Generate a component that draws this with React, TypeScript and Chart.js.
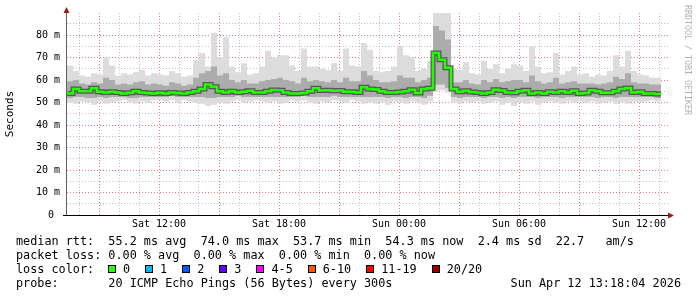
import React, { useEffect, useRef } from 'react';
import { Chart, registerables } from 'chart.js';

Chart.register(...registerables);

// time axis in hours since Sat 00:00 (local), one sample every 18 minutes
const START_HOUR = 7.4;
const STEP_HOUR = 0.3;
const X_MIN = 7.4;
const X_MAX = 37.5;
const Y_MAX = 89.8;

const tickHours = [12, 18, 24, 30, 36];
const tickLabels = ['Sat 12:00', 'Sat 18:00', 'Sun 00:00', 'Sun 06:00', 'Sun 12:00'];

// median RTT (ms)
const medianRtt = [
  55.0, 54.0, 56.0, 55.0, 55.0, 56.3, 54.8, 54.5, 54.8, 54.5, 54.0, 54.3, 55.0, 54.5, 54.2, 54.0,
  54.3, 54.0, 54.5, 54.2, 54.0, 54.5, 55.0, 56.0, 58.0, 57.0, 55.0, 54.5, 55.0, 54.5, 54.8, 55.2, 54.5, 54.5, 55.0,
  55.6, 55.5, 54.5, 54.0, 54.0, 54.2, 55.0, 56.4, 55.4, 55.5, 55.2, 55.3, 54.8, 54.8, 54.5, 56.8, 56.0,
  55.8, 55.0, 54.5, 54.5, 54.7, 55.0, 55.7, 54.2, 56.0, 56.4, 72.0, 69.0, 65.5, 56.0, 54.8, 55.2, 54.7,
  54.5, 54.0, 54.5, 55.7, 55.3, 54.5, 54.3, 55.0, 55.5, 54.0, 54.5, 54.0, 54.8, 54.5, 55.0, 54.5, 55.2,
  54.0, 54.2, 55.5, 55.0, 54.3, 54.3, 55.0, 56.0, 56.5, 54.5, 54.8, 54.0, 54.0, 53.8,
];

// slowest ping of each sample (ms)
const maxRtt = [
  63.5, 66.5, 64.0, 62.0, 61.5, 63.0, 62.5, 70.0, 66.5, 62.0, 63.0, 62.5, 63.5, 64.5, 62.0, 63.0,
  62.5, 62.0, 64.0, 63.0, 61.5, 62.0, 69.0, 72.0, 66.0, 81.0, 70.0, 79.0, 66.0, 63.5, 67.5, 62.5, 63.0, 66.0, 73.0,
  70.0, 71.0, 71.0, 66.5, 64.0, 74.0, 66.0, 66.0, 65.0, 64.5, 67.5, 64.0, 74.0, 66.5, 66.0, 76.5, 73.5,
  64.0, 63.5, 64.0, 66.0, 75.0, 71.0, 70.0, 64.0, 65.0, 68.5, 92.0, 92.0, 92.0, 65.0, 64.5, 68.0, 63.0,
  62.5, 68.5, 65.0, 67.0, 63.0, 65.0, 67.0, 66.5, 64.0, 75.0, 66.0, 63.0, 63.5, 72.0, 62.5, 64.0, 66.0,
  62.5, 63.0, 61.5, 62.5, 62.0, 64.0, 71.0, 66.0, 73.0, 64.0, 62.5, 62.0, 61.0, 61.0,
];

// fastest ping of each sample (ms)
const minRtt = [
  50.5, 50.0, 49.5, 50.5, 50.0, 49.0, 50.5, 49.5, 50.0, 50.5, 51.0, 50.0, 49.5, 50.5, 50.0, 51.0,
  51.0, 50.5, 51.0, 50.0, 51.0, 50.5, 50.0, 49.5, 48.5, 49.0, 50.0, 49.5, 50.5, 51.0, 50.0, 50.5, 51.0, 50.5,
  50.0, 50.5, 49.5, 50.0, 51.0, 50.5, 51.0, 50.0, 49.5, 50.5, 50.0, 51.0, 50.5, 50.0, 51.0, 50.5, 49.5, 50.0,
  49.5, 50.0, 49.0, 50.5, 50.0, 49.5, 50.5, 50.0, 49.0, 50.5, 55.0, 55.5, 54.5, 50.0, 49.5, 50.5, 50.0,
  50.5, 49.5, 50.0, 50.5, 49.0, 50.0, 48.5, 50.0, 49.5, 50.5, 49.0, 50.0, 50.5, 50.0, 49.5, 50.5, 50.0,
  50.5, 50.0, 50.5, 49.5, 50.0, 50.5, 49.5, 50.0, 49.5, 50.5, 50.0, 50.5, 51.0, 50.5,
];

// inner smoke band, upper edge (ms)
const upperSmoke = [
  58.0, 59.5, 60.0, 58.5, 58.0, 59.0, 58.5, 61.0, 60.0, 58.0, 58.5, 58.0, 59.0, 59.5, 58.0, 58.5,
  58.0, 57.5, 59.0, 58.5, 57.5, 58.0, 61.0, 63.0, 64.0, 66.0, 62.0, 63.0, 60.0, 59.0, 60.0, 58.5, 58.5, 59.5,
  60.0, 60.5, 61.0, 60.0, 59.5, 58.5, 61.0, 59.5, 60.0, 59.5, 59.0, 60.0, 59.0, 61.0, 59.5, 59.5, 64.0, 62.0,
  60.0, 59.0, 59.0, 59.5, 62.0, 61.0, 61.0, 59.0, 60.0, 61.0, 84.0, 82.0, 78.0, 59.0, 59.0, 60.0, 58.5,
  58.0, 60.0, 59.0, 60.5, 59.0, 59.5, 60.0, 60.0, 59.0, 62.0, 59.5, 58.5, 59.0, 61.0, 58.5, 59.0, 59.5,
  58.5, 58.5, 58.5, 58.0, 58.5, 59.0, 61.5, 60.5, 63.0, 59.0, 58.5, 58.5, 58.0, 58.0,
];

// inner smoke band, lower edge (ms)
const lowerSmoke = [
  52.5, 52.0, 52.5, 52.5, 52.0, 52.0, 52.5, 52.0, 52.5, 52.5, 52.5, 52.0, 52.0, 52.5, 52.5, 52.5,
  52.5, 52.5, 53.0, 52.5, 52.5, 52.5, 52.5, 52.5, 52.0, 52.0, 52.5, 52.5, 52.5, 53.0, 52.5, 52.5, 52.5, 52.5,
  52.5, 52.5, 52.5, 52.5, 52.5, 52.5, 53.0, 52.5, 52.5, 52.5, 52.5, 53.0, 52.5, 52.5, 52.5, 52.5, 52.5, 52.5,
  52.5, 52.5, 52.0, 52.5, 52.5, 52.0, 52.5, 52.5, 52.0, 53.0, 58.0, 58.0, 56.5, 52.5, 52.0, 52.5, 52.5,
  52.5, 52.0, 52.5, 52.5, 52.0, 52.5, 52.0, 52.5, 52.5, 52.5, 52.0, 52.5, 52.5, 52.5, 52.0, 52.5, 52.5,
  52.5, 52.5, 52.5, 52.0, 52.5, 52.5, 52.0, 52.5, 52.5, 52.5, 52.5, 52.5, 52.5, 52.0,
];

const lossLabels = ['0', '1', '2', '3', '4-5', '6-10', '11-19', '20/20'];
const lossColors = ['#26ff00', '#00b8ff', '#0059ff', '#5e00ff', '#ff00ff', '#ff5500', '#ff0000', '#a10000'];

const statsLines = [
  'median rtt:  55.2 ms avg  74.0 ms max  53.7 ms min  54.3 ms now  2.4 ms sd  22.7   am/s',
  'packet loss: 0.00 % avg  0.00 % max  0.00 % min  0.00 % now',
];
const probeLine = 'probe:       20 ICMP Echo Pings (56 Bytes) every 300s';
const stampText = 'Sun Apr 12 13:18:04 2026';

const MONO = "'DejaVu Sans Mono', monospace";
const MAJOR_GRID = 'rgba(215, 70, 70, 0.7)';
const MINOR_GRID = 'rgba(150, 150, 150, 0.6)';

const toPoints = (arr: number[]) => arr.map((y, i) => ({ x: START_HOUR + STEP_HOUR * i, y }));

const rrdAxes = {
  id: 'rrdAxes',
  afterDraw(chart: any) {
    const { ctx, chartArea: a } = chart;
    ctx.save();
    ctx.strokeStyle = '#606060';
    ctx.lineWidth = 1;
    ctx.beginPath();
    ctx.moveTo(a.left - 0.5, a.bottom);
    ctx.lineTo(a.left - 0.5, a.top - 3);
    ctx.stroke();
    ctx.strokeStyle = '#000';
    ctx.beginPath();
    ctx.moveTo(a.left - 4, a.bottom + 0.5);
    ctx.lineTo(a.right + 1, a.bottom + 0.5);
    ctx.stroke();
    ctx.fillStyle = '#9b1c1c';
    ctx.beginPath();
    ctx.moveTo(a.left - 0.5, a.top - 6);
    ctx.lineTo(a.left - 3.5, a.top);
    ctx.lineTo(a.left + 2.5, a.top);
    ctx.closePath();
    ctx.fill();
    ctx.beginPath();
    ctx.moveTo(a.right + 5, a.bottom + 0.5);
    ctx.lineTo(a.right - 1, a.bottom - 2.5);
    ctx.lineTo(a.right - 1, a.bottom + 3.5);
    ctx.closePath();
    ctx.fill();
    ctx.restore();
  },
};

function ChartCanvas() {
  const ref = useRef<HTMLCanvasElement | null>(null);
  useEffect(() => {
    if (!ref.current) return;
    const common = { pointRadius: 0, pointHoverRadius: 0, stepped: 'after' as const };
    const chart = new Chart(ref.current, {
      type: 'line',
      data: {
        datasets: [
          { ...common, data: toPoints(maxRtt), fill: '+1', backgroundColor: '#dcdcdc', borderColor: 'transparent', borderWidth: 0, order: 10 },
          { ...common, data: toPoints(minRtt), fill: false, borderColor: 'transparent', borderWidth: 0, order: 9 },
          { ...common, data: toPoints(upperSmoke), fill: '+1', backgroundColor: '#acacac', borderColor: 'transparent', borderWidth: 0, order: 8 },
          { ...common, data: toPoints(lowerSmoke), fill: false, borderColor: 'transparent', borderWidth: 0, order: 7 },
          { ...common, data: toPoints(medianRtt), fill: false, borderColor: 'rgba(70,70,70,0.85)', borderWidth: 5, order: 2 },
          { ...common, data: toPoints(medianRtt), fill: false, borderColor: '#22ff00', borderWidth: 2.5, order: 1 },
        ],
      },
      options: {
        responsive: false,
        animation: false,
        events: [],
        layout: { padding: { left: 0, top: 13, right: 28, bottom: 0 } },
        plugins: { legend: { display: false }, tooltip: { enabled: false } },
        scales: {
          x: {
            type: 'linear',
            min: X_MIN,
            max: X_MAX,
            z: 1,
            afterFit: (s: any) => { s.height = 82; },
            grid: {
              color: (c: any) => (c.tick && c.tick.value % 3 === 0 ? MAJOR_GRID : MINOR_GRID),
              lineWidth: 1,
              drawTicks: false,
            },
            border: { display: false, dash: [1, 2] },
            ticks: {
              stepSize: 1,
              autoSkip: false,
              maxRotation: 0,
              minRotation: 0,
              includeBounds: false,
              padding: 3,
              color: '#000',
              font: { family: MONO, size: 10 },
              callback: (v: any) => {
                const k = tickHours.indexOf(Number(v));
                return k >= 0 ? tickLabels[k] : '';
              },
            },
          },
          y: {
            type: 'linear',
            min: 0,
            max: Y_MAX,
            z: 1,
            afterFit: (s: any) => { s.width = 67; },
            grid: {
              color: (c: any) => (c.tick && c.tick.value % 10 === 0 ? MAJOR_GRID : MINOR_GRID),
              lineWidth: 1,
              drawTicks: false,
            },
            border: { display: false, dash: [1, 2] },
            title: {
              display: true,
              text: 'Seconds',
              color: '#000',
              font: { family: MONO, size: 11 },
              padding: { top: 4, bottom: 4 },
            },
            ticks: {
              stepSize: 5,
              autoSkip: false,
              includeBounds: false,
              padding: 7,
              color: '#000',
              font: { family: MONO, size: 10 },
              callback: (v: any) => {
                const n = Number(v);
                if (n === 0) return '0 ';
                return n % 10 === 0 ? `${n} m` : '';
              },
            },
          },
        },
      },
      plugins: [rrdAxes],
    });
    return () => chart.destroy();
  }, []);
  return <canvas ref={ref} width={697} height={297} style={{ position: 'absolute', left: 0, top: 0 }} />;
}

export default function App() {
  const text: React.CSSProperties = {
    position: 'absolute',
    left: 16,
    fontFamily: MONO,
    fontSize: '11.8px',
    lineHeight: '14px',
    whiteSpace: 'pre',
    color: '#000',
  };
  return (
    <div style={{ position: 'fixed', left: 0, top: 0, width: 697, height: 297, background: '#fff', overflow: 'hidden' }}>
      <ChartCanvas />
      <div style={{ ...text, top: 234 }}>{statsLines[0]}</div>
      <div style={{ ...text, top: 248 }}>{statsLines[1]}</div>
      <div style={{ ...text, top: 262, display: 'flex', alignItems: 'center' }}>
        <span style={{ width: 92 }}>loss color:</span>
        {lossLabels.map((l, i) => (
          <span key={l} style={{ display: 'flex', alignItems: 'center', marginRight: 15 }}>
            <span style={{ display: 'inline-block', width: 6, height: 6, border: '1px solid #000', background: lossColors[i], marginRight: 7 }} />
            <span>{l}</span>
          </span>
        ))}
      </div>
      <div style={{ ...text, top: 276 }}>{probeLine}</div>
      <div style={{ ...text, left: undefined, right: 16, top: 276 }}>{stampText}</div>
      <div
        style={{
          position: 'absolute',
          left: 683,
          top: 5,
          writingMode: 'vertical-rl',
          fontFamily: MONO,
          fontSize: '8.3px',
          color: '#b0b0b0',
          whiteSpace: 'pre',
          lineHeight: '9px',
        }}
      >
        RRDTOOL / TOBI OETIKER
      </div>
    </div>
  );
}
